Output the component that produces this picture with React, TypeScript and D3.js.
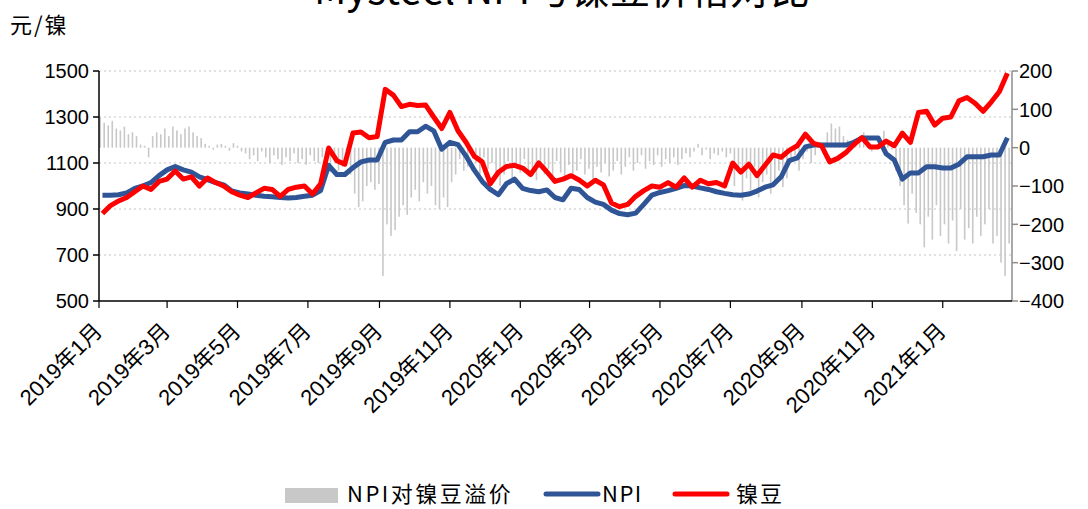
import * as d3 from "d3";

// 镍豆 weekly (元/镍), Fridays from 2019-01-04
const nickelBean = [
  880, 915, 935, 950, 975, 1000, 985, 1020, 1030, 1065,
  1030, 1040, 1000, 1035, 1015, 1000, 975, 960, 950, 970,
  990, 985, 955, 985, 995, 1000, 965, 1010, 1165, 1110,
  1095, 1230, 1235, 1210, 1215, 1420, 1395, 1345, 1355, 1350,
  1352, 1300, 1250, 1320, 1240, 1190, 1130, 1105, 1010, 1060,
  1085, 1090, 1078, 1050, 1100, 1062, 1020, 1030, 1045, 1026,
  1000, 1025, 1005, 926, 910, 920, 955, 980, 1000, 995,
  1015, 995, 1035, 995, 1025, 1010, 1015, 1000, 1100, 1060,
  1095, 1045, 1090, 1135, 1125, 1155, 1175, 1225, 1185, 1175,
  1105, 1120, 1145, 1180, 1210, 1170, 1170, 1195, 1175, 1230,
  1190, 1320, 1325, 1265, 1295, 1300, 1370, 1385, 1360, 1325,
  1365, 1410, 1490,
];

// NPI weekly (元/镍)
const npi = [
  960, 960, 962, 970, 990, 1000, 1015, 1045, 1070, 1085,
  1070, 1060, 1040, 1028, 1015, 1005, 978, 970, 965, 960,
  955, 953, 950, 948, 950, 955, 960, 980, 1090, 1050,
  1050, 1080, 1105, 1113, 1113, 1190, 1200, 1200, 1236, 1236,
  1260, 1240, 1160, 1190, 1180, 1130, 1070, 1020, 985, 962,
  1010, 1030, 990, 980, 975, 983, 950, 940, 990, 985,
  950, 930, 920, 895, 880, 875, 882, 920, 960, 972,
  980, 990, 1002, 1000, 992, 985, 975, 968, 962, 960,
  965, 978, 995, 1005, 1040, 1110, 1122, 1170, 1178, 1178,
  1178, 1178, 1178, 1190, 1209, 1209, 1209, 1140, 1113, 1030,
  1057, 1057, 1084, 1084, 1078, 1078, 1095, 1127, 1127, 1127,
  1135, 1135, 1210,
];

// NPI对镍豆溢价, every 3.5 days from 2019-01-02 (right axis)
const premium = [
  80, 65, 58, 70, 50, 45, 55, 35, 40, 30,
  8, 5,
  -25, 30, 40, 35, 50, 30, 55, 45, 35, 50, 55, 40, 30, 25,
  10, 5, -5, 8, 10, 5, -8, 12, 5, -10,
  -15, -30, -20, -35, -10, -25, -40, -20, -30, -45, -25, -35, -15, -40, -30, -45, -20, -35, -40, -25, -45, -65, -30,
  -60, -50, -40, -70, -120, -155, -140, -100, -90, -110, -95,
  -335, -200, -230, -215, -180, -150, -175,
  -130, -110, -140, -90, -120, -100, -150, -160, -130, -155, -90,
  -70, -30, -60, -50, -20, -40, -70, -25, -55, -40, -80, -100,
  -70, -35, -80, -50, -65, -30, -75, -60, -85, -40, -70, -55, -80, -35, -65,
  -75, -45, -80, -60, -30, -70, -55, -85, -50, -65, -40, -75, -60, -35, -70,
  -50, -25, -60, -40, -20, -55, -35, -45, -20, -50, -30, -40, -25, -45, -30,
  -15, -25, -10, 10, -20, -5, -30, -15, -20, -10, -25, -15,
  -100, -60, -138, -80, -110, -50, -130, -90, -70, -120, -100, -60, -103, -80,
  -40, -20, -60, -30, -10, -40, -20, 5, -10,
  40, 63, 50, 55, 30, 20,
  -5, 10, 20, 40, 15, -10, 5, 25, 44, 10, -5,
  -60, -100, -150, -198, -120, -170,
  -200, -260, -180, -240, -150, -230, -200, -250, -190, -270, -160, -240,
  -210, -250, -180, -230, -200, -160, -250, -230, -300, -335, -250,
];

const xTickLabels = [
  "2019年1月", "2019年3月", "2019年5月", "2019年7月", "2019年9月", "2019年11月",
  "2020年1月", "2020年3月", "2020年5月", "2020年7月", "2020年9月", "2020年11月",
  "2021年1月",
];
const leftTicks = [500, 700, 900, 1100, 1300, 1500];
const rightTicks = [-400, -300, -200, -100, 0, 100, 200];

const W = 1088;
const H = 509;
const left = 99;
const right = 1012;
const top = 71;
const bottom = 301;

const BLUE = "#2f5597";
const RED = "#ff0000";
const BAR = "#c8c8c8";
const latin = "'Liberation Sans', Arial, 'Noto Sans CJK SC', sans-serif";
const cjk = "'Noto Sans CJK SC', 'Liberation Sans', sans-serif";

export default function App() {
  const weekDates = nickelBean.map((_, i) => d3.timeDay.offset(new Date(2019, 0, 4), 7 * i));
  const barDates = premium.map((_, j) => d3.timeHour.offset(new Date(2019, 0, 2), 84 * j));
  const tickDates = xTickLabels.map((_, k) => new Date(2019, 2 * k, 1));

  const x = d3.scaleTime().domain([new Date(2019, 0, 1), new Date(2021, 2, 2)]).range([left, right]);
  const yL = d3.scaleLinear().domain([500, 1500]).range([bottom, top]);
  const yR = d3.scaleLinear().domain([-400, 200]).range([bottom, top]);

  const line = d3
    .line<number>()
    .x((_, i) => x(weekDates[i]))
    .y((d) => yL(d));

  return (
    <div style={{ position: "absolute", left: 0, top: 0, width: W, height: H, background: "#fff" }}>
      <svg width={W} height={H} style={{ display: "block" }}>
        <text x={562} y={4} textAnchor="middle" fontFamily={cjk} fontSize={40} fill="#000">
          Mysteel NPI与镍豆价格对比
        </text>
        <text x={10} y={33} fontFamily={cjk} fontSize={22} letterSpacing={2} fill="#000">
          元/镍
        </text>

        {/* grid */}
        {leftTicks.slice(1).map((t) => (
          <line key={t} x1={left} x2={right} y1={yL(t)} y2={yL(t)} stroke="#c4c4c4" strokeWidth={1.2} strokeDasharray="2,3" />
        ))}

        {/* premium bars */}
        {premium.map((v, j) => (
          <rect
            key={j}
            x={x(barDates[j]) - 0.8}
            y={yR(Math.max(v, 0))}
            width={1.6}
            height={Math.abs(yR(v) - yR(0))}
            fill={BAR}
          />
        ))}

        <path d={line(npi) ?? ""} fill="none" stroke={BLUE} strokeWidth={5} strokeLinejoin="round" />
        <path d={line(nickelBean) ?? ""} fill="none" stroke={RED} strokeWidth={5} strokeLinejoin="round" />

        {/* left axis */}
        <line x1={left} x2={left} y1={top} y2={bottom} stroke="#000" strokeWidth={1.5} />
        {leftTicks.map((t) => (
          <g key={t}>
            <line x1={left - 6} x2={left} y1={yL(t)} y2={yL(t)} stroke="#000" strokeWidth={1.5} />
            <text x={left - 10} y={yL(t)} dy="0.36em" textAnchor="end" fontFamily={latin} fontSize={20} fill="#000">
              {t}
            </text>
          </g>
        ))}

        {/* right axis */}
        <line x1={right} x2={right} y1={top} y2={bottom} stroke="#8c8c8c" strokeWidth={1.5} />
        {rightTicks.map((t) => (
          <g key={t}>
            <line x1={right} x2={right + 6} y1={yR(t)} y2={yR(t)} stroke="#8c8c8c" strokeWidth={1.5} />
            <text x={right + 7} y={yR(t)} dy="0.36em" fontFamily={latin} fontSize={20} fill="#000">
              {t < 0 ? `−${-t}` : t}
            </text>
          </g>
        ))}

        {/* bottom axis */}
        <line x1={left} x2={right} y1={bottom} y2={bottom} stroke="#000" strokeWidth={1.5} />
        {tickDates.map((d, k) => (
          <g key={k}>
            <line x1={x(d)} x2={x(d)} y1={bottom} y2={bottom + 7} stroke="#000" strokeWidth={1.2} />
            <text
              transform={`translate(${x(d) - 1},${bottom + 26}) rotate(-45)`}
              dy="0.35em"
              textAnchor="end"
              fontFamily={latin}
              fontSize={22}
              fill="#000"
            >
              {xTickLabels[k]}
            </text>
          </g>
        ))}

        {/* legend */}
        <rect x={285} y={488} width={53} height={15} fill={BAR} />
        <text x={347} y={494} dy="0.36em" fontFamily={cjk} fontSize={22} letterSpacing={2.5} fill="#000">
          NPI对镍豆溢价
        </text>
        <line x1={546} x2={598} y1={494} y2={494} stroke={BLUE} strokeWidth={5} strokeLinecap="round" />
        <text x={602} y={494} dy="0.36em" fontFamily={cjk} fontSize={22} letterSpacing={1.5} fill="#000">
          NPI
        </text>
        <line x1={675} x2={727} y1={494} y2={494} stroke={RED} strokeWidth={5} strokeLinecap="round" />
        <text x={736} y={494} dy="0.36em" fontFamily={cjk} fontSize={22} letterSpacing={2} fill="#000">
          镍豆
        </text>
      </svg>
    </div>
  );
}
